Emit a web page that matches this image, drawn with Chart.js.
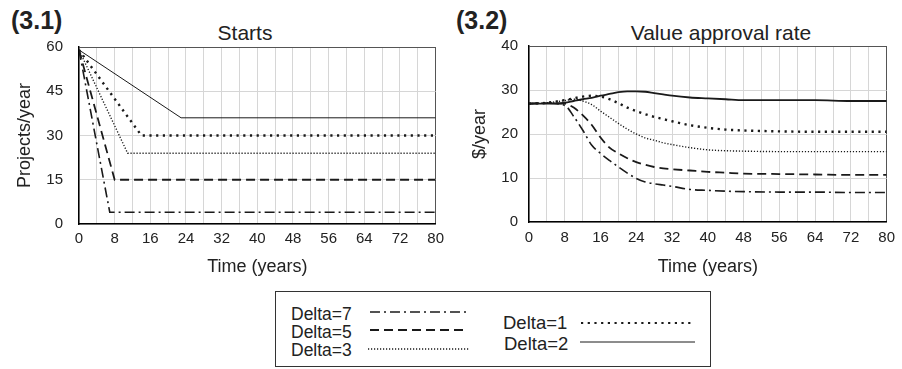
<!DOCTYPE html>
<html lang="en">
<head>
  <meta charset="UTF-8" />
  <title>Starts / Value approval rate</title>
  <script src="https://cdn.jsdelivr.net/npm/chart.js"></script>
  <style>
    body {
      margin: 0;
      width: 902px;
      height: 369px;
      background: #fff;
      font-family: "Liberation Sans", Arial, sans-serif;
      color: #222;
      position: relative;
      overflow: hidden;
    }
    .panel { position: absolute; top: 0; height: 290px; }
    .tag { position: absolute; top: 8px; font-weight: bold; font-size: 25px; line-height: 25px; }
    .title { position: absolute; top: 22px; width: 300px; text-align: center; font-size: 21px; line-height: 21px; }
    .legend {
      position: absolute; left: 275px; top: 291px; width: 436px; height: 76px;
      border: 1px solid #333; box-sizing: border-box;
    }
    .legend .lbl { position: absolute; height: 20px; line-height: 20px; white-space: nowrap; }
    .legend canvas { position: absolute; }
  </style>
</head>
<body>

  <div class="tag" style="left:11px">(3.1)</div>
  <div class="tag" style="left:456px">(3.2)</div>
  <div class="title" style="left:95px">Starts</div>
  <div class="title" style="left:571px">Value approval rate</div>

  <div class="panel" style="left:0; width:450px"><canvas id="startsChart"></canvas></div>
  <div class="panel" style="left:450px; width:452px"><canvas id="valueChart"></canvas></div>

  <div class="legend" id="legend"></div>

  <script>
    // Starts (3.1): each run falls in a straight line, then stays flat
    const startsT7 = [0, 6.9, 80];   const startsV7 = [59, 4, 4];
    const startsT5 = [0, 8, 80];     const startsV5 = [59, 15, 15];
    const startsT3 = [0, 10.9, 80];  const startsV3 = [59, 24, 24];
    const startsT1 = [0, 14, 80];    const startsV1 = [59, 30, 30];
    const startsT2 = [0, 22.9, 80];  const startsV2 = [59, 36, 36];

    // Value approval rate (3.2)
    const valueTime = [0, 4, 8, 10, 12, 14, 16, 18, 20, 22, 24, 26, 28, 30, 32, 36, 40, 44, 48, 56, 64, 72, 80];
    const value7 = [26.9, 27.0, 26.5, 24.0, 20.9, 17.5, 15.6, 14.0, 12.5, 11.1, 9.9, 9.1, 8.7, 8.4, 8.1, 7.4, 7.2, 7.0, 6.9, 6.8, 6.8, 6.7, 6.7];
    const value5 = [26.9, 27.0, 26.9, 26.0, 24.3, 22.1, 19.2, 16.9, 15.6, 14.5, 13.6, 13.0, 12.5, 12.2, 12.0, 11.7, 11.4, 11.2, 11.0, 10.9, 10.8, 10.7, 10.7];
    const value3 = [26.9, 27.1, 27.6, 27.9, 27.5, 26.7, 25.2, 23.8, 22.4, 21.1, 20.0, 19.1, 18.6, 18.0, 17.6, 16.9, 16.4, 16.2, 16.1, 16.0, 16.0, 16.0, 16.0];
    const value1 = [26.9, 27.1, 27.7, 28.1, 28.5, 28.7, 28.5, 27.9, 27.0, 26.0, 25.2, 24.5, 23.9, 23.4, 22.9, 22.0, 21.4, 21.0, 20.8, 20.6, 20.5, 20.5, 20.5];
    const value2 = [26.9, 26.9, 27.1, 27.5, 27.9, 28.2, 28.7, 29.1, 29.5, 29.7, 29.7, 29.6, 29.3, 29.0, 28.7, 28.3, 28.1, 27.9, 27.7, 27.7, 27.7, 27.5, 27.5];

    const runLabels = ["Delta=7", "Delta=5", "Delta=3", "Delta=1", "Delta=2"];

    // line look per run
    const INK = "#1a1a1a";
    const runStyle = {
      "Delta=7": { dash: [10, 4, 2, 4], width: 1.6 },
      "Delta=5": { dash: [9, 5], width: 1.8 },
      "Delta=3": { dash: [1.2, 1.8], width: 1.4 },
      "Delta=1": { dash: [2.2, 4.5], width: 2.4 },
      "Delta=2": { dash: [], width: 1 }
    };

    Chart.defaults.font.family = "'Liberation Sans', Arial, sans-serif";
    Chart.defaults.color = "#222";

    function pts(ts, vs) {
      return ts.map((t, i) => ({ x: t, y: vs[i] }));
    }

    function dataset(label, data, smooth, extraWidth) {
      const s = runStyle[label];
      const ds = {
        label: label,
        data: data,
        borderColor: INK,
        borderWidth: s.width + (extraWidth || 0),
        borderDash: s.dash,
        fill: false,
        pointRadius: 0,
        tension: 0
      };
      if (smooth) ds.cubicInterpolationMode = "monotone";
      return ds;
    }

    function buildChart(id, datasets, cfg) {
      return new Chart(document.getElementById(id), {
        type: "line",
        data: { datasets: datasets },
        options: {
          responsive: true,
          maintainAspectRatio: false,
          animation: false,
          layout: { padding: { top: cfg.top, right: cfg.right, left: 0, bottom: 0 } },
          plugins: { legend: { display: false }, tooltip: { enabled: false } },
          scales: {
            x: {
              type: "linear", min: 0, max: 80,
              afterFit: s => { s.height = cfg.xHeight; },
              border: { color: "#000", width: 1.5 },
              grid: {
                drawTicks: false,
                color: c => (c.tick && c.tick.value === 80 ? "#555" : "#d6d6d6")
              },
              ticks: {
                stepSize: 4, autoSkip: false, maxRotation: 0,
                padding: cfg.xTickPad, font: { size: 15 },
                callback: v => (v % 8 === 0 ? v : "")
              },
              title: {
                display: true, text: "Time (years)", font: { size: 18 },
                padding: { top: 0, bottom: 12 }
              }
            },
            y: {
              min: 0, max: cfg.yMax,
              afterFit: s => { s.width = 79; },
              border: { color: "#000", width: 1.5 },
              grid: {
                drawTicks: false,
                color: c => (c.tick && c.tick.value === cfg.yMax ? "#555" : "#d6d6d6")
              },
              ticks: { stepSize: cfg.yStep, padding: cfg.yTickPad, font: { size: 15 } },
              title: {
                display: true, text: cfg.yTitle, font: { size: 18 },
                padding: { top: cfg.yTitlePad, bottom: 0 }
              }
            }
          }
        }
      });
    }

    buildChart("startsChart", [
      dataset("Delta=7", pts(startsT7, startsV7), false),
      dataset("Delta=5", pts(startsT5, startsV5), false),
      dataset("Delta=3", pts(startsT3, startsV3), false),
      dataset("Delta=1", pts(startsT1, startsV1), false),
      dataset("Delta=2", pts(startsT2, startsV2), false)
    ], { top: 47, right: 9, xHeight: 66, xTickPad: 6, yMax: 60, yStep: 15, yTickPad: 16, yTitle: "Projects/year", yTitlePad: 14 });

    buildChart("valueChart", [
      dataset("Delta=7", pts(valueTime, value7), true),
      dataset("Delta=5", pts(valueTime, value5), true),
      dataset("Delta=3", pts(valueTime, value3), true),
      dataset("Delta=1", pts(valueTime, value1), true),
      dataset("Delta=2", pts(valueTime, value2), true, 0.8)
    ], { top: 46, right: 11, xHeight: 68, xTickPad: 7, yMax: 40, yStep: 10, yTickPad: 11, yTitle: "$/year", yTitlePad: 19 });

    // legend box, two columns
    const legendPlace = {
      "Delta=7": { tx: 15, ty: 12, sx: 94, sy: 20, sw: 97, fs: 17.5 },
      "Delta=5": { tx: 15, ty: 30, sx: 94, sy: 38, sw: 94, fs: 17.5 },
      "Delta=3": { tx: 15, ty: 48, sx: 92, sy: 57, sw: 102, fs: 17.5 },
      "Delta=1": { tx: 227, ty: 21, sx: 305, sy: 31, sw: 113, fs: 18.5 },
      "Delta=2": { tx: 228, ty: 42, sx: 304, sy: 50, sw: 115, fs: 18.5 }
    };
    const legend = document.getElementById("legend");
    runLabels.forEach(name => {
      const p = legendPlace[name];
      const s = runStyle[name];
      const lbl = document.createElement("div");
      lbl.className = "lbl";
      lbl.textContent = name;
      lbl.style.left = p.tx + "px";
      lbl.style.top = p.ty + "px";
      lbl.style.fontSize = p.fs + "px";
      legend.appendChild(lbl);

      const cv = document.createElement("canvas");
      cv.width = p.sw; cv.height = 6;
      cv.style.left = p.sx + "px";
      cv.style.top = (p.sy - 3) + "px";
      legend.appendChild(cv);
      const ctx = cv.getContext("2d");
      ctx.strokeStyle = INK;
      ctx.lineWidth = Math.min(s.width, 1.8);
      ctx.setLineDash(s.dash);
      ctx.beginPath();
      ctx.moveTo(0, 3);
      ctx.lineTo(p.sw, 3);
      ctx.stroke();
    });
  </script>
</body>
</html>
